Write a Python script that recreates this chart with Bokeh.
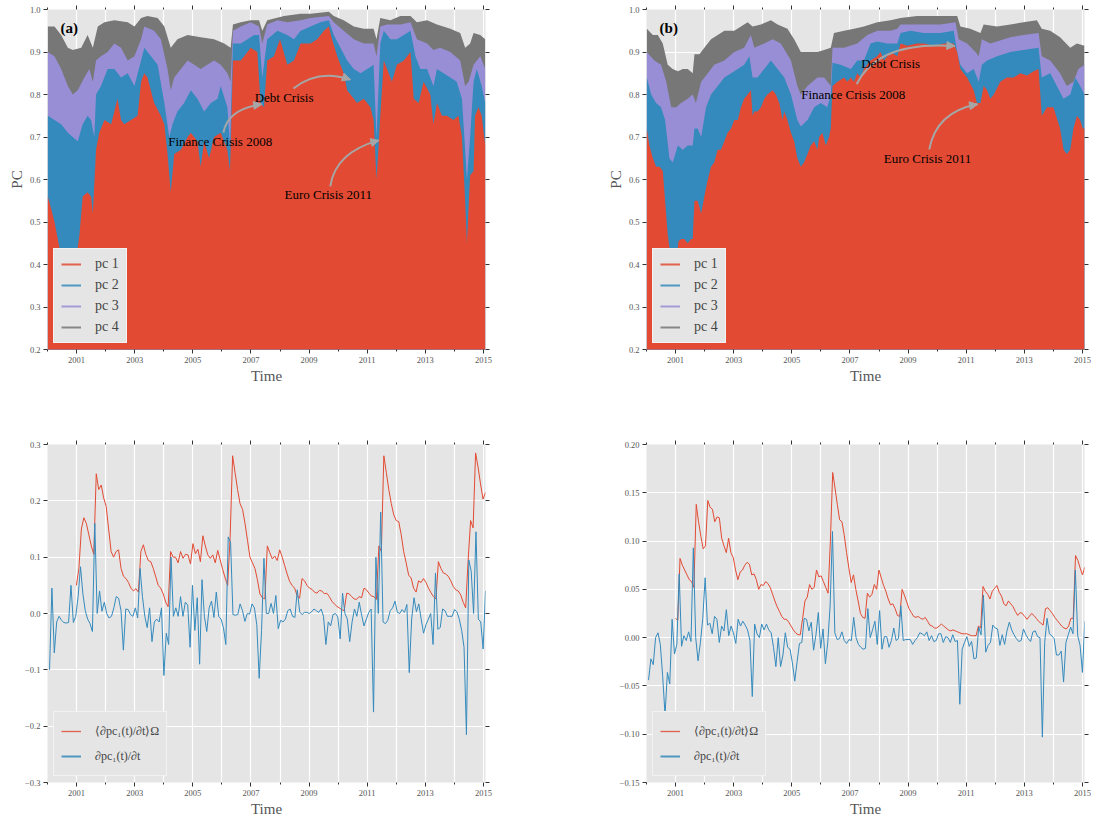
import numpy as np
from bokeh.plotting import figure
from bokeh.layouts import row, column
from bokeh.models import (Range1d, FixedTicker, LinearAxis, Label, Arrow, NormalHead,
                          Legend, LegendItem)
from bokeh.embed import file_html
from bokeh.resources import INLINE

# ---------------------------------------------------------------- data
# panel (a): cumulative explained variance (top boundary of each stacked band)
a_pc1_x = [2000.01, 2000.13, 2000.24, 2000.41, 2000.64, 2000.81, 2000.87, 2000.98, 2001.10, 2001.21,
           2001.38, 2001.50, 2001.56, 2001.67, 2001.78, 2001.96, 2002.19, 2002.41, 2002.53, 2002.64,
           2002.87, 2003.10, 2003.22, 2003.33, 2003.44, 2003.67, 2003.90, 2004.02, 2004.13, 2004.24,
           2004.36, 2004.59, 2004.82, 2004.93, 2005.16, 2005.27, 2005.39, 2005.56, 2005.73, 2005.96,
           2006.19, 2006.28, 2006.38, 2006.65, 2006.88, 2006.99, 2007.22, 2007.33, 2007.45, 2007.56,
           2007.79, 2008.00, 2008.25, 2008.48, 2008.71, 2009.05, 2009.28, 2009.51, 2009.68, 2009.79,
           2009.97, 2010.19, 2010.31, 2010.54, 2010.65, 2010.88, 2011.00, 2011.11, 2011.22, 2011.32,
           2011.40, 2011.45, 2011.57, 2011.74, 2011.85, 2012.02, 2012.26, 2012.49, 2012.60, 2012.77,
           2012.94, 2013.17, 2013.28, 2013.40, 2013.57, 2013.74, 2013.97, 2014.14, 2014.26, 2014.37,
           2014.43, 2014.54, 2014.66, 2014.71, 2014.83, 2014.94, 2015.06]
a_pc1 = [0.56, 0.53, 0.50, 0.44, 0.41, 0.42, 0.43, 0.41, 0.47, 0.56,
         0.57, 0.56, 0.52, 0.67, 0.71, 0.74, 0.73, 0.79, 0.74, 0.73,
         0.74, 0.75, 0.83, 0.85, 0.84, 0.78, 0.75, 0.73, 0.66, 0.57,
         0.66, 0.67, 0.70, 0.71, 0.69, 0.63, 0.69, 0.65, 0.70, 0.71,
         0.67, 0.62, 0.88, 0.88, 0.90, 0.91, 0.90, 0.78, 0.77, 0.88,
         0.89, 0.93, 0.87, 0.88, 0.92, 0.92, 0.93, 0.95, 0.96, 0.93,
         0.89, 0.85, 0.81, 0.79, 0.78, 0.79, 0.78, 0.77, 0.74, 0.60,
         0.69, 0.75, 0.88, 0.85, 0.83, 0.87, 0.88, 0.90, 0.79, 0.78,
         0.83, 0.80, 0.73, 0.78, 0.75, 0.75, 0.74, 0.75, 0.70, 0.55,
         0.45, 0.61, 0.62, 0.75, 0.77, 0.75, 0.68]

a_pc12_x = [2000.01, 2000.24, 2000.47, 2000.70, 2001.04, 2001.21, 2001.38, 2001.50, 2001.61, 2001.67,
            2001.84, 2002.07, 2002.30, 2002.53, 2002.76, 2002.99, 2003.22, 2003.33, 2003.56, 2003.79,
            2004.02, 2004.19, 2004.30, 2004.47, 2004.70, 2004.93, 2005.16, 2005.39, 2005.62, 2005.85,
            2005.96, 2006.19, 2006.28, 2006.38, 2006.65, 2006.88, 2007.11, 2007.28, 2007.39, 2007.56,
            2007.91, 2008.25, 2008.48, 2008.71, 2009.05, 2009.39, 2009.68, 2009.85, 2010.08, 2010.31,
            2010.54, 2010.77, 2011.00, 2011.22, 2011.32, 2011.45, 2011.57, 2011.80, 2012.02, 2012.26,
            2012.49, 2012.66, 2012.83, 2013.06, 2013.28, 2013.40, 2013.63, 2013.86, 2014.08, 2014.26,
            2014.37, 2014.43, 2014.54, 2014.66, 2014.77, 2014.94, 2015.06]
a_pc12 = [0.75, 0.74, 0.73, 0.71, 0.69, 0.73, 0.75, 0.74, 0.70, 0.80,
          0.82, 0.86, 0.86, 0.84, 0.85, 0.82, 0.88, 0.91, 0.89, 0.87,
          0.78, 0.70, 0.73, 0.76, 0.78, 0.81, 0.79, 0.76, 0.78, 0.79,
          0.82, 0.77, 0.68, 0.92, 0.92, 0.93, 0.94, 0.94, 0.84, 0.93,
          0.95, 0.94, 0.93, 0.95, 0.96, 0.97, 0.975, 0.94, 0.91, 0.88,
          0.86, 0.85, 0.86, 0.87, 0.70, 0.92, 0.95, 0.93, 0.93, 0.94,
          0.95, 0.89, 0.86, 0.86, 0.82, 0.86, 0.85, 0.84, 0.83, 0.79,
          0.67, 0.60, 0.70, 0.83, 0.86, 0.82, 0.78]

a_pc123_x = [2000.01, 2000.24, 2000.47, 2000.70, 2000.87, 2001.04, 2001.27, 2001.44, 2001.56, 2001.67,
             2001.84, 2002.07, 2002.30, 2002.53, 2002.76, 2002.99, 2003.22, 2003.33, 2003.67, 2003.90,
             2004.13, 2004.24, 2004.36, 2004.59, 2004.82, 2005.05, 2005.27, 2005.50, 2005.73, 2005.96,
             2006.19, 2006.30, 2006.38, 2006.65, 2006.99, 2007.28, 2007.39, 2007.56, 2007.91, 2008.25,
             2008.71, 2009.05, 2009.68, 2009.85, 2010.19, 2010.54, 2010.88, 2011.22, 2011.32, 2011.45,
             2011.68, 2012.14, 2012.49, 2012.71, 2013.06, 2013.28, 2013.51, 2013.86, 2014.20, 2014.37,
             2014.49, 2014.66, 2014.89, 2015.06]
a_pc123 = [0.90, 0.89, 0.86, 0.82, 0.80, 0.81, 0.84, 0.86, 0.83, 0.88,
           0.89, 0.90, 0.92, 0.91, 0.88, 0.89, 0.93, 0.96, 0.95, 0.93,
           0.86, 0.81, 0.84, 0.86, 0.88, 0.87, 0.86, 0.87, 0.88, 0.87,
           0.85, 0.83, 0.95, 0.96, 0.97, 0.96, 0.92, 0.965, 0.975, 0.97,
           0.975, 0.98, 0.985, 0.97, 0.95, 0.93, 0.92, 0.92, 0.89, 0.96,
           0.965, 0.965, 0.97, 0.93, 0.92, 0.905, 0.91, 0.90, 0.88, 0.82,
           0.83, 0.87, 0.89, 0.86]

a_pc1234_x = [2000.01, 2000.24, 2000.47, 2000.70, 2000.87, 2001.16, 2001.38, 2001.56, 2001.73, 2001.96,
              2002.30, 2002.76, 2002.99, 2003.22, 2003.44, 2003.79, 2004.02, 2004.24, 2004.47, 2004.82,
              2005.27, 2005.73, 2006.08, 2006.30, 2006.38, 2006.65, 2006.99, 2007.28, 2007.39, 2007.56,
              2008.14, 2008.71, 2009.05, 2009.68, 2009.85, 2010.19, 2010.54, 2010.88, 2011.22, 2011.32,
              2011.45, 2011.80, 2012.14, 2012.49, 2012.71, 2013.06, 2013.40, 2013.86, 2014.20, 2014.37,
              2014.54, 2014.66, 2014.89, 2015.06]
a_pc1234 = [0.96, 0.96, 0.94, 0.91, 0.905, 0.91, 0.94, 0.91, 0.96, 0.97,
            0.975, 0.97, 0.96, 0.98, 0.985, 0.98, 0.96, 0.91, 0.93, 0.94,
            0.935, 0.93, 0.92, 0.91, 0.965, 0.97, 0.975, 0.975, 0.95, 0.975,
            0.985, 0.99, 0.99, 0.995, 0.985, 0.975, 0.96, 0.955, 0.955, 0.93,
            0.98, 0.975, 0.985, 0.985, 0.97, 0.975, 0.965, 0.955, 0.945, 0.91,
            0.92, 0.945, 0.94, 0.93]

# panel (b)
b_pc1_x = [2000.01, 2000.10, 2000.22, 2000.33, 2000.45, 2000.56, 2000.64, 2000.73, 2000.85, 2000.94,
           2001.02, 2001.10, 2001.19, 2001.30, 2001.42, 2001.53, 2001.59, 2001.65, 2001.76, 2001.88,
           2001.99, 2002.11, 2002.22, 2002.33, 2002.45, 2002.56, 2002.68, 2002.79, 2002.91, 2003.02,
           2003.14, 2003.25, 2003.36, 2003.48, 2003.59, 2003.65, 2003.71, 2003.82, 2003.94, 2004.05,
           2004.16, 2004.34, 2004.45, 2004.57, 2004.68, 2004.74, 2004.85, 2004.97, 2005.08, 2005.19,
           2005.31, 2005.42, 2005.54, 2005.65, 2005.77, 2005.88, 2005.94, 2006.05, 2006.17, 2006.28,
           2006.34, 2006.40, 2006.57, 2006.80, 2006.91, 2007.03, 2007.14, 2007.25, 2007.37, 2007.48,
           2007.71, 2007.94, 2008.05, 2008.17, 2008.40, 2008.63, 2008.74, 2008.97, 2009.31, 2009.54,
           2009.89, 2010.23, 2010.57, 2010.69, 2010.80, 2011.03, 2011.26, 2011.37, 2011.49, 2011.60,
           2011.72, 2011.83, 2011.95, 2012.17, 2012.40, 2012.63, 2012.86, 2013.09, 2013.32, 2013.49,
           2013.60, 2013.78, 2014.00, 2014.23, 2014.35, 2014.46, 2014.58, 2014.69, 2014.81, 2014.92,
           2015.01, 2015.07]
b_pc1 = [0.72, 0.68, 0.65, 0.63, 0.63, 0.62, 0.55, 0.47, 0.41, 0.43,
         0.40, 0.455, 0.46, 0.46, 0.45, 0.46, 0.46, 0.55, 0.55, 0.52,
         0.56, 0.60, 0.63, 0.64, 0.67, 0.67, 0.69, 0.71, 0.72, 0.74,
         0.74, 0.77, 0.79, 0.80, 0.81, 0.75, 0.76, 0.76, 0.77, 0.79,
         0.80, 0.81, 0.80, 0.78, 0.74, 0.76, 0.74, 0.71, 0.69, 0.65,
         0.63, 0.64, 0.66, 0.68, 0.69, 0.67, 0.70, 0.71, 0.68, 0.70,
         0.72, 0.82, 0.83, 0.84, 0.83, 0.84, 0.83, 0.85, 0.84, 0.86,
         0.88, 0.89, 0.90, 0.88, 0.90, 0.89, 0.92, 0.915, 0.92, 0.92,
         0.915, 0.92, 0.92, 0.90, 0.86, 0.84, 0.81, 0.78, 0.78, 0.82,
         0.81, 0.79, 0.80, 0.83, 0.84, 0.84, 0.85, 0.845, 0.855, 0.86,
         0.75, 0.77, 0.77, 0.72, 0.67, 0.66, 0.67, 0.72, 0.75, 0.74,
         0.72, 0.72]

b_pc12_x = [2000.01, 2000.16, 2000.33, 2000.50, 2000.64, 2000.79, 2000.90, 2001.08, 2001.25, 2001.42,
            2001.59, 2001.65, 2001.76, 2001.88, 2002.05, 2002.22, 2002.45, 2002.68, 2002.91, 2003.14,
            2003.36, 2003.54, 2003.65, 2003.82, 2004.05, 2004.28, 2004.51, 2004.74, 2004.97, 2005.19,
            2005.31, 2005.54, 2005.77, 2006.00, 2006.22, 2006.34, 2006.40, 2006.68, 2007.03, 2007.25,
            2007.48, 2007.71, 2007.94, 2008.28, 2008.63, 2008.74, 2009.08, 2009.54, 2010.11, 2010.57,
            2010.69, 2010.80, 2011.03, 2011.26, 2011.43, 2011.54, 2011.72, 2012.06, 2012.52, 2012.97,
            2013.49, 2013.60, 2013.89, 2014.12, 2014.35, 2014.58, 2014.75, 2014.92, 2015.07]
b_pc12 = [0.84, 0.80, 0.78, 0.77, 0.74, 0.65, 0.64, 0.68, 0.67, 0.68,
          0.68, 0.72, 0.72, 0.70, 0.77, 0.80, 0.82, 0.84, 0.85, 0.86,
          0.87, 0.89, 0.84, 0.84, 0.86, 0.88, 0.86, 0.84, 0.80, 0.74,
          0.725, 0.74, 0.77, 0.78, 0.77, 0.80, 0.875, 0.87, 0.86, 0.88,
          0.88, 0.92, 0.925, 0.92, 0.92, 0.945, 0.95, 0.945, 0.945, 0.95,
          0.90, 0.87, 0.85, 0.86, 0.83, 0.87, 0.88, 0.89, 0.90, 0.905,
          0.91, 0.84, 0.85, 0.82, 0.79, 0.80, 0.84, 0.82, 0.80]

b_pc123_x = [2000.01, 2000.27, 2000.50, 2000.68, 2000.85, 2001.02, 2001.19, 2001.42, 2001.59, 2001.70,
             2001.88, 2002.11, 2002.33, 2002.68, 2003.02, 2003.36, 2003.59, 2003.71, 2004.05, 2004.34,
             2004.62, 2004.97, 2005.19, 2005.31, 2005.54, 2005.88, 2006.11, 2006.34, 2006.40, 2006.80,
             2007.25, 2007.60, 2007.94, 2008.40, 2008.63, 2008.74, 2009.31, 2010.11, 2010.63, 2010.74,
             2011.03, 2011.32, 2011.43, 2011.54, 2011.83, 2012.52, 2012.97, 2013.49, 2013.60, 2013.89,
             2014.23, 2014.46, 2014.69, 2014.86, 2015.07]
b_pc123 = [0.90, 0.88, 0.87, 0.83, 0.77, 0.77, 0.78, 0.79, 0.80, 0.78,
           0.83, 0.85, 0.87, 0.88, 0.90, 0.91, 0.94, 0.91, 0.92, 0.93,
           0.92, 0.88, 0.82, 0.80, 0.82, 0.84, 0.84, 0.82, 0.91, 0.91,
           0.92, 0.94, 0.95, 0.95, 0.955, 0.965, 0.965, 0.965, 0.97, 0.93,
           0.92, 0.90, 0.89, 0.93, 0.92, 0.935, 0.94, 0.945, 0.89, 0.88,
           0.85, 0.82, 0.83, 0.86, 0.87]

b_pc1234_x = [2000.01, 2000.22, 2000.39, 2000.56, 2000.73, 2000.90, 2001.08, 2001.25, 2001.42, 2001.59,
              2001.65, 2001.82, 2001.99, 2002.22, 2002.45, 2002.68, 2003.02, 2003.25, 2003.48, 2003.65,
              2003.94, 2004.28, 2004.51, 2004.85, 2005.08, 2005.31, 2005.54, 2005.88, 2006.11, 2006.34,
              2006.45, 2006.80, 2007.14, 2007.48, 2007.94, 2008.40, 2008.74, 2009.31, 2010.00, 2010.69,
              2010.80, 2011.14, 2011.49, 2011.60, 2012.06, 2012.52, 2012.97, 2013.43, 2013.60, 2013.89,
              2014.23, 2014.58, 2014.81, 2015.07]
b_pc1234 = [0.955, 0.94, 0.94, 0.92, 0.87, 0.86, 0.855, 0.86, 0.86, 0.85,
            0.895, 0.895, 0.91, 0.93, 0.94, 0.95, 0.95, 0.96, 0.97, 0.96,
            0.965, 0.975, 0.965, 0.955, 0.93, 0.90, 0.90, 0.90, 0.905, 0.91,
            0.945, 0.95, 0.955, 0.96, 0.97, 0.975, 0.98, 0.985, 0.985, 0.985,
            0.96, 0.955, 0.945, 0.965, 0.96, 0.965, 0.97, 0.975, 0.955, 0.95,
            0.935, 0.91, 0.92, 0.915]

# lower panels: monthly series (first / last month as decimal year)
a_mean_span = (2000.995, 2015.07)
a_mean = [0.05, 0.08, 0.15, 0.17, 0.16, 0.14, 0.12, 0.105, 0.248, 0.22,
          0.228, 0.205, 0.19, 0.15, 0.11, 0.10, 0.11, 0.113, 0.08, 0.066,
          0.062, 0.055, 0.045, 0.04, 0.044, 0.038, 0.11, 0.122, 0.105, 0.094,
          0.092, 0.08, 0.065, 0.05, 0.045, 0.035, 0.02, 0.012, 0.11, 0.10,
          0.10, 0.09, 0.11, 0.098, 0.105, 0.104, 0.088, 0.124, 0.106, 0.114,
          0.092, 0.138, 0.12, 0.104, 0.098, 0.104, 0.09, 0.112, 0.095, 0.078,
          0.063, 0.05, 0.135, 0.28, 0.25, 0.22, 0.195, 0.185, 0.16, 0.13,
          0.10, 0.09, 0.08, 0.06, 0.035, 0.028, 0.026, 0.12, 0.108, 0.097,
          0.102, 0.094, 0.113, 0.10, 0.085, 0.07, 0.057, 0.05, 0.045, 0.032,
          0.027, 0.062, 0.058, 0.05, 0.045, 0.043, 0.038, 0.036, 0.041, 0.04,
          0.035, 0.036, 0.03, 0.022, 0.017, 0.013, 0.01, 0.007, 0.005, 0.036,
          0.035, 0.03, 0.026, 0.025, 0.03, 0.028, 0.045, 0.042, 0.036, 0.031,
          0.03, 0.025, 0.12, 0.11, 0.28, 0.25, 0.22, 0.195, 0.175, 0.165,
          0.163, 0.14, 0.11, 0.09, 0.068, 0.063, 0.045, 0.038, 0.058, 0.055,
          0.062, 0.055, 0.045, 0.037, 0.03, 0.026, 0.092, 0.08, 0.072, 0.07,
          0.066, 0.058, 0.048, 0.042, 0.04, 0.033, 0.02, 0.01, 0.095, 0.165,
          0.152, 0.285, 0.26, 0.23, 0.203, 0.215]
a_deriv_span = (2000.07, 2015.07)
a_deriv = [-0.10, 0.045, -0.07, -0.015, -0.005, -0.012, -0.016, -0.017, -0.016, 0.05,
           -0.016, -0.005, 0.03, 0.083, 0.035, 0.005, -0.01, -0.018, -0.032, 0.16,
           0.0, 0.04, 0.004, 0.02, 0.0, -0.008, -0.005, 0.01, 0.03, 0.027,
           0.005, -0.065, 0.008, 0.007, -0.002, -0.005, 0.01, -0.008, 0.08, 0.03,
           -0.005, -0.025, 0.01, -0.05, -0.015, -0.01, -0.015, 0.01, -0.11, -0.035,
           -0.055, 0.10, -0.005, 0.01, -0.005, 0.03, -0.005, 0.02, 0.015, -0.06,
           0.05, -0.03, 0.028, -0.09, 0.06, -0.005, -0.032, 0.01, 0.022, -0.007,
           0.038, -0.005, -0.01, -0.025, -0.055, 0.136, 0.126, -0.002, -0.003, -0.002,
           0.017, 0.005, -0.014, 0.0, -0.001, 0.017, 0.01, -0.02, -0.115, -0.03,
           0.098, 0.0, 0.0, 0.018, 0.0, 0.032, -0.027, -0.012, -0.015, -0.01,
           0.005, 0.008, -0.005, -0.007, 0.042, 0.003, -0.002, 0.002, 0.002, 0.0,
           0.003, 0.008, 0.005, 0.002, 0.008, -0.005, -0.055, -0.015, -0.022, -0.002,
           0.0, -0.006, -0.045, 0.036, 0.0, -0.01, -0.05, -0.015, 0.008, -0.005,
           0.02, -0.003, -0.022, -0.01, 0.002, 0.008, -0.175, 0.10, 0.0, 0.18,
           -0.015, -0.018, -0.012, 0.005, 0.01, 0.022, 0.002, 0.0, 0.007, 0.002,
           0.016, -0.105, -0.01, 0.028, 0.003, 0.017, -0.01, -0.035, -0.02, -0.01,
           0.0, -0.055, 0.072, -0.028, -0.025, 0.008, 0.005, -0.005, -0.005, -0.005,
           0.007, 0.003, -0.01, -0.03, -0.06, -0.215, 0.095, 0.075, 0.0, 0.145,
           -0.01, -0.015, -0.063, 0.04]

b_mean_span = (2000.995, 2015.08)
b_mean = [0.02, 0.018, 0.082, 0.075, 0.07, 0.065, 0.06, 0.058, 0.052, 0.138,
          0.12, 0.105, 0.092, 0.095, 0.142, 0.135, 0.133, 0.12, 0.125, 0.124,
          0.103, 0.095, 0.088, 0.103, 0.088, 0.083, 0.07, 0.06, 0.068, 0.07,
          0.075, 0.078, 0.076, 0.065, 0.066, 0.06, 0.05, 0.055, 0.054, 0.058,
          0.056, 0.052, 0.045, 0.038, 0.032, 0.027, 0.022, 0.019, 0.019, 0.016,
          0.012, 0.008, 0.005, 0.003, 0.003, 0.02, 0.038, 0.042, 0.055, 0.05,
          0.052, 0.07, 0.063, 0.064, 0.058, 0.052, 0.046, 0.10, 0.171, 0.155,
          0.138, 0.122, 0.12, 0.106, 0.088, 0.072, 0.057, 0.065, 0.05, 0.038,
          0.025, 0.021, 0.02, 0.046, 0.042, 0.045, 0.055, 0.05, 0.07, 0.062,
          0.054, 0.048, 0.04, 0.034, 0.035, 0.03, 0.023, 0.022, 0.05, 0.044,
          0.037, 0.03, 0.026, 0.022, 0.021, 0.022, 0.02, 0.019, 0.021, 0.017,
          0.013, 0.012, 0.01, 0.01, 0.012, 0.014, 0.012, 0.01, 0.008, 0.007,
          0.008, 0.007, 0.006, 0.005, 0.004, 0.004, 0.004, 0.003, 0.002, 0.002,
          0.002, 0.012, 0.01, 0.053, 0.048, 0.045, 0.04, 0.048, 0.051, 0.054,
          0.047, 0.043, 0.035, 0.033, 0.038, 0.035, 0.032, 0.027, 0.023, 0.026,
          0.025, 0.022, 0.019, 0.022, 0.025, 0.023, 0.02, 0.017, 0.015, 0.013,
          0.03, 0.031, 0.028, 0.025, 0.021, 0.018, 0.015, 0.012, 0.01, 0.009,
          0.012, 0.02, 0.02, 0.085, 0.08, 0.072, 0.065, 0.073]
b_deriv_span = (2000.07, 2015.08)
b_deriv = [-0.044, -0.022, -0.028, 0.0, 0.005, -0.007, -0.04, -0.08, -0.036, -0.048,
           0.019, -0.017, -0.007, 0.066, -0.009, 0.002, -0.003, 0.006, -0.004, 0.093,
           0.0, -0.024, -0.005, 0.02, 0.062, 0.013, 0.015, 0.004, 0.022, 0.019,
           -0.005, 0.012, 0.007, 0.029, 0.002, 0.012, 0.005, -0.006, 0.019, 0.012,
           0.017, 0.013, 0.008, -0.003, -0.061, 0.014, 0.004, 0.0, 0.014, 0.008,
           0.014, 0.008, 0.005, -0.01, -0.03, 0.0, -0.03, -0.018, 0.005, -0.01,
           -0.012, -0.026, -0.045, -0.025, -0.006, -0.005, 0.02, 0.019, 0.007, 0.016,
           -0.013, 0.003, 0.026, -0.011, 0.009, -0.027, -0.005, 0.033, 0.11, 0.005,
           -0.002, -0.001, 0.006, -0.003, -0.006, -0.002, -0.003, 0.021, 0.0, -0.007,
           -0.01, -0.012, -0.011, 0.03, 0.0, 0.008, 0.017, -0.007, 0.028, -0.012,
           0.001, 0.001, -0.01, -0.003, 0.01, -0.003, -0.001, 0.033, -0.003, -0.002,
           -0.002, -0.002, -0.007, -0.003, 0.0, 0.005, 0.004, 0.002, 0.006, -0.003,
           0.002, -0.004, -0.003, 0.004, 0.004, -0.005, 0.001, 0.0, -0.005, 0.003,
           -0.004, -0.003, -0.069, -0.012, -0.005, 0.001, -0.009, -0.004, -0.022, -0.021,
           0.011, 0.003, 0.044, -0.015, -0.008, -0.005, 0.013, 0.01, 0.009, -0.008,
           0.003, -0.007, 0.007, 0.016, 0.008, 0.003, -0.001, -0.004, -0.003, 0.009,
           0.003, -0.001, -0.004, 0.006, 0.007, 0.001, 0.0, -0.103, -0.005, 0.02,
           0.004, 0.002, -0.001, -0.018, -0.018, -0.014, -0.046, -0.005, 0.003, 0.011,
           0.004, 0.07, 0.002, -0.008, -0.036, 0.017]

# tick labels
YEAR_TICKS = [2001, 2003, 2005, 2007, 2009, 2011, 2013, 2015]
YEAR_MINOR = [2000, 2002, 2004, 2006, 2008, 2010, 2012, 2014]
YEAR_LABELS = ["2001", "2003", "2005", "2007", "2009", "2011", "2013", "2015"]
TOP_TICKS = [0.2, 0.3, 0.4, 0.5, 0.6, 0.7, 0.8, 0.9, 1.0]
TOP_LABELS = ["0.2", "0.3", "0.4", "0.5", "0.6", "0.7", "0.8", "0.9", "1.0"]
BL_TICKS = [-0.3, -0.2, -0.1, 0.0, 0.1, 0.2, 0.3]
BL_LABELS = ["\u22120.3", "\u22120.2", "\u22120.1", "0.0", "0.1", "0.2", "0.3"]
BR_TICKS = [-0.15, -0.10, -0.05, 0.0, 0.05, 0.10, 0.15, 0.20]
BR_LABELS = ["\u22120.15", "\u22120.10", "\u22120.05", "0.00", "0.05", "0.10", "0.15", "0.20"]

PC_NAMES = ["pc 1", "pc 2", "pc 3", "pc 4"]
LINE_NAMES = ["\u27e8\u2202pc\u2081(t)/\u2202t\u27e9\u03a9", "\u2202pc\u2081(t)/\u2202t"]

# annotations: text, text position, arrow start, arrow control, arrow tip
ANN_A = [("Finance Crisis 2008", (2005.94, 0.690), (2006.05, 0.710), (2006.20, 0.766), (2007.37, 0.777)),
         ("Debt Crisis", (2008.14, 0.794), (2008.46, 0.814), (2009.31, 0.861), (2010.42, 0.835)),
         ("Euro Crisis 2011", (2009.66, 0.565), (2009.73, 0.584), (2009.90, 0.664), (2011.40, 0.692))]
ANN_B = [("Finance Crisis 2008", (2007.11, 0.801), (2007.23, 0.824), (2007.95, 0.927), (2010.61, 0.914)),
         ("Debt Crisis", (2008.40, 0.873), None, None, None),
         ("Euro Crisis 2011", (2009.67, 0.649), (2009.73, 0.671), (2009.97, 0.759), (2011.39, 0.777))]

# ---------------------------------------------------------------- style
RED, BLUE, PURPLE, GRAY = "#E24A33", "#348ABD", "#988ED5", "#777777"
BG = "#E5E5E5"
ARROW = "#A6A6A6"
FONT = "Liberation Serif"
X_RANGE = (2000.0, 2015.07)


def style_axis(ax, show_labels=True):
    ax.axis_line_color = None
    ax.major_tick_line_color = "#333333"
    ax.minor_tick_line_color = "#333333"
    ax.major_tick_out = 4
    ax.major_tick_in = 0
    ax.minor_tick_out = 2
    ax.minor_tick_in = 0
    ax.major_label_text_font = FONT
    ax.major_label_text_color = "#555555"
    ax.axis_label_text_font = FONT
    ax.axis_label_text_font_style = "normal"
    ax.axis_label_text_font_size = "15px"
    ax.axis_label_text_color = "#555555"
    ax.axis_label_standoff = 2
    if show_labels:
        ax.major_label_text_font_size = "8.5px"
        ax.major_label_standoff = 3
    else:
        ax.major_label_text_font_size = "1px"
        ax.major_label_text_color = None
        ax.major_label_standoff = 0


def make_fig(w, h, bl, br, bt, bb, yticks, ylabels, ylabel=None):
    p = figure(width=w, height=h, x_range=Range1d(*X_RANGE),
               y_range=Range1d(yticks[0], yticks[-1]),
               output_backend="svg", toolbar_location=None, title=None,
               min_border_left=bl, min_border_right=br, min_border_top=bt, min_border_bottom=bb,
               background_fill_color=BG, border_fill_color="white", outline_line_color=None)
    xt = FixedTicker(ticks=YEAR_TICKS, minor_ticks=YEAR_MINOR)
    yt = FixedTicker(ticks=yticks, minor_ticks=[])
    xax = p.below[0]
    yax = p.left[0]
    xax.ticker = xt
    yax.ticker = yt
    xax.major_label_overrides = dict(zip(YEAR_TICKS, YEAR_LABELS))
    yax.major_label_overrides = dict(zip(yticks, ylabels))
    style_axis(xax)
    style_axis(yax)
    xax.axis_label = "Time"
    if ylabel:
        yax.axis_label = ylabel
    top = LinearAxis(ticker=xt)
    right = LinearAxis(ticker=yt)
    style_axis(top, False)
    style_axis(right, False)
    p.add_layout(top, "above")
    p.add_layout(right, "right")
    p.xgrid.grid_line_color = "white"
    p.xgrid.minor_grid_line_color = "white"
    p.ygrid.grid_line_color = "white"
    p.xgrid.grid_line_width = 1.2
    p.xgrid.minor_grid_line_width = 1.2
    p.ygrid.grid_line_width = 1.2
    return p


def style_legend(leg, label_h, spacing, font_size):
    leg.location = "bottom_left"
    leg.margin = 6
    leg.padding = 7
    leg.spacing = spacing
    leg.label_height = label_h
    leg.glyph_height = label_h
    leg.glyph_width = 20
    leg.label_standoff = 14
    leg.label_text_font = FONT
    leg.label_text_font_size = font_size
    leg.background_fill_color = BG
    leg.background_fill_alpha = 1.0
    leg.border_line_color = "white"
    leg.border_line_width = 1.5


def legend_keys(p, names, colors, widths):
    items = []
    for name, c, w in zip(names, colors, widths):
        r = p.line(x=[np.nan], y=[np.nan], line_color=c, line_width=w, line_alpha=0.85)
        items.append(LegendItem(label=name, renderers=[r]))
    return items


def stacked_panel(p, layers, ann, tag):
    colors = [RED, BLUE, PURPLE, GRAY]
    # draw from the outermost cumulative share inwards
    for (xs, ys), c in reversed(list(zip(layers, colors))):
        p.varea(x=xs, y1=0.0, y2=ys, fill_color=c)
    leg = Legend(items=legend_keys(p, PC_NAMES, colors, [2, 2, 2, 2]))
    style_legend(leg, 14, 5, "14px")
    p.add_layout(leg)
    for text, txy, s, c, e in ann:
        if s is not None:
            p.quadratic(x0=[s[0]], y0=[s[1]], cx=[c[0]], cy=[c[1]], x1=[e[0]], y1=[e[1]],
                        line_color=ARROW, line_width=2)
            p.add_layout(Arrow(end=NormalHead(size=8, fill_color=ARROW, line_color=ARROW),
                               x_start=c[0], y_start=c[1], x_end=e[0], y_end=e[1], line_alpha=0))
    for text, txy, s, c, e in ann:
        p.add_layout(Label(x=txy[0], y=txy[1], text=text, text_align="center",
                           text_baseline="middle", text_font=FONT, text_font_size="13px",
                           text_color="black"))
    p.add_layout(Label(x=2000.45, y=0.956, text=tag, text_align="left", text_baseline="middle",
                       text_font=FONT, text_font_size="15px", text_font_style="bold",
                       text_color="black"))


def line_panel(p, mean_span, mean, deriv_span, deriv):
    xm = np.linspace(mean_span[0], mean_span[1], len(mean))
    xd = np.linspace(deriv_span[0], deriv_span[1], len(deriv))
    p.line(xm, mean, line_color=RED, line_width=1)
    p.line(xd, deriv, line_color=BLUE, line_width=1)
    leg = Legend(items=legend_keys(p, LINE_NAMES, [RED, BLUE], [1.3, 2]))
    style_legend(leg, 24, 1, "12px")
    p.add_layout(leg)


# ---------------------------------------------------------------- build
p1 = make_fig(590, 399, 47, 105, 9, 50, TOP_TICKS, TOP_LABELS, "PC")
stacked_panel(p1, [(a_pc1_x, a_pc1), (a_pc12_x, a_pc12), (a_pc123_x, a_pc123),
                   (a_pc1234_x, a_pc1234)], ANN_A, "(a)")

p2 = make_fig(504, 399, 56, 10, 9, 50, TOP_TICKS, TOP_LABELS, "PC")
stacked_panel(p2, [(b_pc1_x, b_pc1), (b_pc12_x, b_pc12), (b_pc123_x, b_pc123),
                   (b_pc1234_x, b_pc1234)], ANN_B, "(b)")

p3 = make_fig(590, 420, 47, 105, 45, 36, BL_TICKS, BL_LABELS)
line_panel(p3, a_mean_span, a_mean, a_deriv_span, a_deriv)

p4 = make_fig(504, 420, 56, 10, 45, 36, BR_TICKS, BR_LABELS)
line_panel(p4, b_mean_span, b_mean, b_deriv_span, b_deriv)

layout = column(row(p1, p2), row(p3, p4))

open("out.html", "w").write(file_html(layout, INLINE, "PC"))
